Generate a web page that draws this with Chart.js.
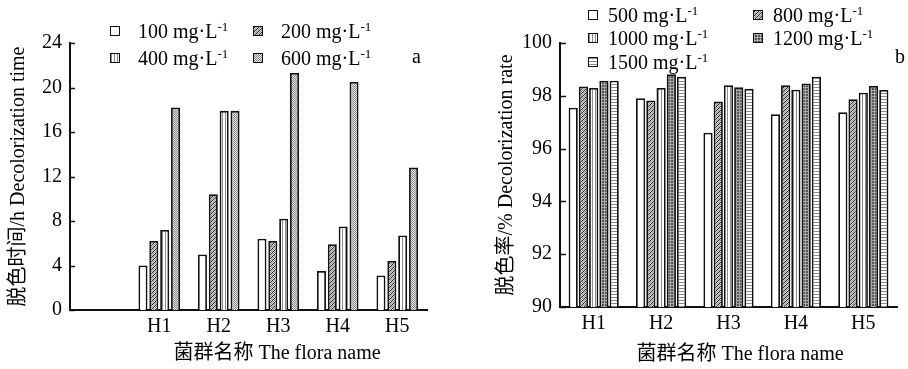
<!DOCTYPE html>
<html>
<head>
<meta charset="utf-8">
<script src="https://cdn.jsdelivr.net/npm/chart.js@4.4.0/dist/chart.umd.min.js"></script>
<style>
  body { margin: 0; width: 908px; height: 369px; background: #fff; position: relative; overflow: hidden;
         font-family: 'Liberation Serif', 'Noto Sans CJK SC', serif; color: #000; }
  canvas.chart { position: absolute; top: 0; }
  .leg { position: absolute; font-size: 20px; line-height: 20px; white-space: nowrap; }
  .leg canvas { position: absolute; left: 0; top: 5px; border: 1px solid #111; }
  .leg span { position: absolute; top: 0; }
  .leg sup { font-size: 13px; vertical-align: 7px; line-height: 0; }
  .tag { position: absolute; font-size: 20px; line-height: 20px; }
  .xt { position: absolute; font-size: 20px; line-height: 22px; white-space: nowrap; transform: translateX(-50%); }
</style>
</head>
<body>
<canvas id="timeChart" class="chart" width="454" height="369" style="left:0"></canvas>
<canvas id="rateChart" class="chart" width="454" height="369" style="left:454px"></canvas>
<div class="tag" style="left:412px;top:46px">a</div>
<div class="tag" style="left:895px;top:46px">b</div>
<div class="xt" style="left:277px;top:341px">菌群名称 The flora name</div>
<div class="xt" style="left:740px;top:342px">菌群名称 The flora name</div>
<div id="legends"></div>
<script>
// 菌群名称
var flora = ["H1", "H2", "H3", "H4", "H5"];

// a: 脱色时间/h
var time_levels = [100, 200, 400, 600];
var time_100 = [4.0, 5.0, 6.4, 3.5, 3.1];
var time_200 = [6.2, 10.4, 6.2, 5.9, 4.4];
var time_400 = [7.2, 17.9, 8.2, 7.5, 6.7];
var time_600 = [18.2, 17.9, 21.3, 20.5, 12.8];

// b: 脱色率/%
var rate_levels = [500, 800, 1000, 1200, 1500];
var rate_500 = [97.55, 97.91, 96.6, 97.3, 97.38];
var rate_800 = [98.35, 97.82, 97.78, 98.4, 97.87];
var rate_1000 = [98.3, 98.3, 98.4, 98.23, 98.12];
var rate_1200 = [98.57, 98.82, 98.32, 98.47, 98.37];
var rate_1500 = [98.57, 98.72, 98.27, 98.72, 98.22];

var fontFamily = "'Liberation Serif', 'Noto Sans CJK SC', serif";
Chart.defaults.font.family = fontFamily;
Chart.defaults.font.size = 20;
Chart.defaults.color = "#000";

// fill patterns
function makePattern(kind) {
  if (kind == "white") return "#ffffff";
  var c = document.createElement("canvas");
  var n = kind == "dots" ? 2 : (kind == "diag" ? 4 : 3);
  c.width = n; c.height = n;
  var g = c.getContext("2d");
  for (var x = 0; x < n; x++) {
    for (var y = 0; y < n; y++) {
      var col = "#ffffff";
      if (kind == "diag") col = (x + y) % 4 == 0 ? "#2a2a2a" : ((x + y) % 4 == 2 ? "#9a9a9a" : "#d0d0d0");
      if (kind == "vert") col = x == 0 ? "#8a8a8a" : "#ffffff";
      if (kind == "horiz") col = y == 0 ? "#8a8a8a" : "#ffffff";
      if (kind == "dots") col = (x + y) % 2 == 0 ? "#8c8c8c" : "#e2e2e2";
      if (kind == "grid") col = (x == 0 || y == 0) ? "#a8a8a8" : "#555555";
      g.fillStyle = col;
      g.fillRect(x, y, 1, 1);
    }
  }
  return g.createPattern(c, "repeat");
}

var time_fills = [makePattern("white"), makePattern("diag"), makePattern("vert"), makePattern("dots")];
var rate_fills = [makePattern("white"), makePattern("diag"), makePattern("vert"), makePattern("grid"), makePattern("horiz")];

// ticks drawn inside the y axis
var innerTicks = {
  id: "innerTicks",
  afterDraw: function (chart, args, opts) {
    var y = chart.scales.y, ctx = chart.ctx, left = chart.chartArea.left;
    ctx.save();
    ctx.strokeStyle = "#111";
    ctx.lineWidth = 1.5;
    y.ticks.forEach(function (t) {
      var py = Math.round(y.getPixelForValue(t.value)) + 0.5;
      ctx.beginPath();
      ctx.moveTo(left, py);
      ctx.lineTo(left + opts.length, py);
      ctx.stroke();
    });
    ctx.restore();
  }
};

function makeSets(levels, series, fills, pad) {
  return levels.map(function (lv, i) {
    return {
      label: lv + " mg·L⁻¹",
      data: pad ? [null].concat(series[i]) : series[i],
      backgroundColor: fills[i],
      borderColor: "#111",
      borderWidth: 1.8,
    };
  });
}

function axisOptions(yTitle, yMin, yMax, yStep, yWidth, yTitlePad, xHeight, evenOnly) {
  return {
    x: {
      grid: { display: false, drawTicks: false },
      border: { display: true, color: "#111", width: 2 },
      ticks: { padding: 5, autoSkip: false, maxRotation: 0 },
      afterFit: function (s) { s.height = xHeight; },
    },
    y: {
      min: yMin,
      max: yMax,
      grid: { display: false, drawTicks: false },
      border: { display: true, color: "#111", width: 2 },
      ticks: {
        stepSize: yStep,
        padding: 8,
        callback: function (v) { return evenOnly && v % 2 != 0 ? "" : v; },
      },
      title: { display: true, text: yTitle, padding: { top: yTitlePad, bottom: 0 } },
      afterFit: function (s) { s.width = yWidth; },
    },
  };
}

var ctx = document.getElementById("timeChart").getContext("2d");
var timeChart = new Chart(ctx, {
  type: "bar",
  data: {
    labels: [""].concat(flora),
    datasets: makeSets(time_levels, [time_100, time_200, time_400, time_600], time_fills, true),
  },
  options: {
    responsive: false,
    animation: false,
    layout: { padding: { left: 0, right: 27, top: 43, bottom: 0 } },
    datasets: { bar: { categoryPercentage: 0.73, barPercentage: 0.83 } },
    plugins: { legend: { display: false }, tooltip: { enabled: false }, innerTicks: { length: 5 } },
    scales: axisOptions("脱色时间/h Decolorization time", 0, 24, 4, 70, 7, 59, false),
  },
  plugins: [innerTicks],
});

var ctx = document.getElementById("rateChart").getContext("2d");
var rateChart = new Chart(ctx, {
  type: "bar",
  data: {
    labels: flora,
    datasets: makeSets(rate_levels, [rate_500, rate_800, rate_1000, rate_1200, rate_1500], rate_fills, false),
  },
  options: {
    responsive: false,
    animation: false,
    layout: { padding: { left: 0, right: 11, top: 43, bottom: 0 } },
    datasets: { bar: { categoryPercentage: 0.76, barPercentage: 0.9 } },
    plugins: { legend: { display: false }, tooltip: { enabled: false }, innerTicks: { length: 6 } },
    scales: axisOptions("脱色率/% Decolorization rate", 90, 100, 1, 106, 41, 62, true),
  },
  plugins: [innerTicks],
});

// legends, two columns
function buildLegend(levels, fills, colX, rowY, textGap) {
  var box = document.getElementById("legends");
  levels.forEach(function (lv, i) {
    var d = document.createElement("div");
    d.className = "leg";
    d.style.left = colX[i % 2] + "px";
    d.style.top = (rowY[Math.floor(i / 2)] - 10) + "px";
    var sw = document.createElement("canvas");
    sw.width = 8; sw.height = 8;
    var g = sw.getContext("2d");
    g.fillStyle = fills[i];
    g.fillRect(0, 0, 8, 8);
    d.appendChild(sw);
    var t = document.createElement("span");
    t.style.left = textGap + "px";
    t.innerHTML = lv + " mg·L<sup>-1</sup>";
    d.appendChild(t);
    box.appendChild(d);
  });
}
buildLegend(time_levels, time_fills, [110, 253], [31, 58], 28);
buildLegend(rate_levels, rate_fills, [588, 753], [15, 38, 62], 20);
</script>
</body>
</html>
